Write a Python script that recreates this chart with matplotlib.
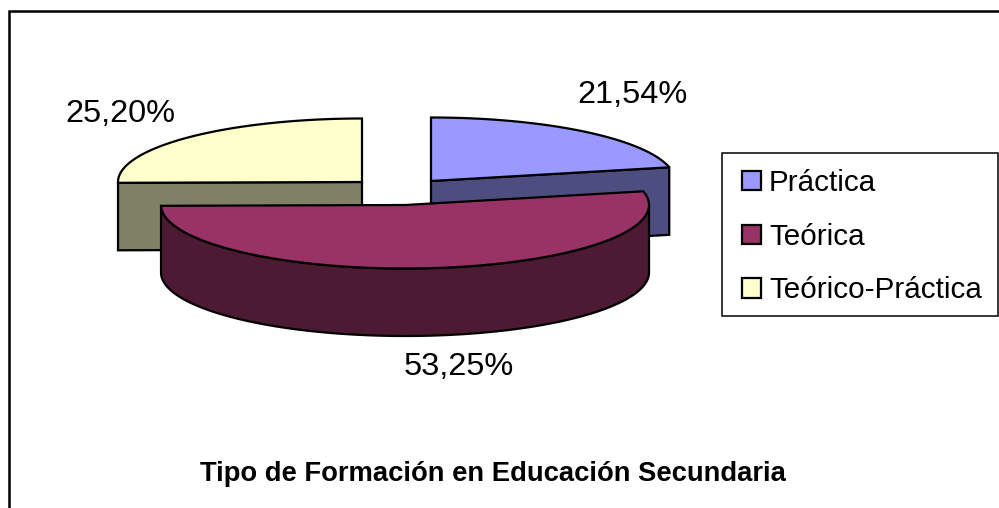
import numpy as np
import matplotlib
matplotlib.use('Agg')
import matplotlib.pyplot as plt
from matplotlib.patches import Polygon, Patch, Rectangle

categorias = ['Práctica', 'Teórica', 'Teórico-Práctica']
valores = [21.54, 53.25, 25.20]
titulo = 'Tipo de Formación en Educación Secundaria'

colores = ['#9999FF', '#993366', '#FFFFCC']
paredes = ['#4D4D80', '#4D1A33', '#808066']

# centro de cada porcion (separadas), radios de la elipse y altura, en pixeles
centros = [(431, 181), (405, 205), (362, 182)]
rx, ry, alto = 244, 63.5, 67.5
pos_etiquetas = [(632.5, 95), (459, 367), (120, 114)]

plt.rcParams['font.family'] = ['Liberation Sans', 'DejaVu Sans']

fig = plt.figure(figsize=(9.99, 5.08), dpi=100)
ax = fig.add_axes([0, 0, 1, 1])
ax.set_xlim(0, 999)
ax.set_ylim(508, 0)
ax.axis('off')

# marco del grafico, se corta a la derecha y abajo
ax.add_patch(Rectangle((8.8, 11), 1000, 600, fc='white', ec='black', lw=1.8, zorder=0))


def borde(cx, cy, a, b):
    # arco de elipse, angulos desde las 12 en sentido horario
    t = np.radians(np.linspace(a, b, 200))
    return np.column_stack([cx + rx * np.sin(t), cy - ry * np.cos(t)])


limites = np.cumsum([0] + valores) / sum(valores) * 360
lw = 1.6

# orden de dibujo: detras primero, la porcion grande al final
for i in [0, 2, 1]:
    a, b = limites[i], limites[i + 1]
    cx, cy = centros[i]
    z = 10 if i == 1 else 2 + i
    arco = borde(cx, cy, a, b)
    if i == 1:
        # pared exterior, solo la mitad de delante
        frente = borde(cx, cy, max(a, 90), min(b, 270))
        pared = np.vstack([frente, (frente + [0, alto])[::-1]])
    else:
        # cara del corte que mira al frente
        p = arco[-1] if i == 0 else arco[0]
        pared = [(cx, cy), p, (p[0], p[1] + alto), (cx, cy + alto)]
    ax.add_patch(Polygon(pared, fc=paredes[i], ec='black', lw=lw, zorder=z))
    ax.add_patch(Polygon(np.vstack([[(cx, cy)], arco]), fc=colores[i], ec='black',
                         lw=lw, zorder=z + 0.5))

for v, (x, y) in zip(valores, pos_etiquetas):
    ax.text(x, y, f'{v:.2f}%'.replace('.', ','), fontsize=23.4, ha='center', va='center', zorder=20)

ax.text(492.5, 474, titulo, fontsize=19.7, fontweight='bold', ha='center', va='center', zorder=20)

# caja de la leyenda
ax.add_patch(Rectangle((722, 153), 276, 163, fc='white', ec='black', lw=1.1, zorder=15))
manejadores = [Patch(fc=c, ec='black', lw=1.6) for c in colores]
leg = ax.legend(manejadores, categorias, loc='upper left', bbox_to_anchor=(742 / 999, 1 - 169 / 508),
                borderaxespad=0, borderpad=0, fontsize=21.3, frameon=False, handlelength=0.64,
                handleheight=0.64, handletextpad=0.27, labelspacing=0.87)
leg.set_zorder(20)

fig.savefig('out.png', dpi=100)
